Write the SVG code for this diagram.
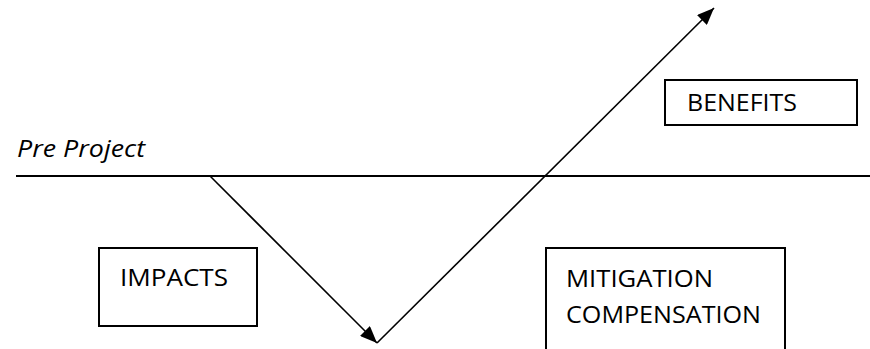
<svg xmlns="http://www.w3.org/2000/svg" width="870" height="349" viewBox="0 0 870 349">
<style>
.box{fill:#fff;stroke:#000;stroke-width:2}
.t{font-family:"Open Sans","Liberation Sans",Arial,sans-serif;font-size:24px;fill:#000}
.ln{stroke:#000;stroke-width:1.6;fill:none}
</style>
<defs>
<marker id="ah" viewBox="0 0 10 10" refX="10" refY="5" markerWidth="17" markerHeight="14" markerUnits="userSpaceOnUse" orient="auto" preserveAspectRatio="none">
<path d="M0,0 L10,5 L0,10 z" fill="#000"/>
</marker>
</defs>
<rect width="870" height="349" fill="#fff"/>
<g id="baseline">
<line x1="16" y1="176" x2="870" y2="176" stroke="#000" stroke-width="2"/>
<text class="t" x="17" y="157" font-style="italic" textLength="128" lengthAdjust="spacingAndGlyphs">Pre Project</text>
</g>
<g id="benefits">
<rect class="box" x="665" y="80" width="192" height="45"/>
<text class="t" x="687" y="111" textLength="110" lengthAdjust="spacingAndGlyphs">BENEFITS</text>
</g>
<g id="impacts">
<rect class="box" x="99" y="248" width="158" height="78"/>
<text class="t" x="120" y="286" textLength="108" lengthAdjust="spacingAndGlyphs">IMPACTS</text>
</g>
<g id="mitigation">
<rect class="box" x="546" y="248" width="239" height="110"/>
<text class="t" x="566" y="287" textLength="147" lengthAdjust="spacingAndGlyphs">MITIGATION</text>
<text class="t" x="566" y="323" textLength="195" lengthAdjust="spacingAndGlyphs">COMPENSATION</text>
</g>
<g id="connectors">
<line class="ln" x1="210" y1="176" x2="377" y2="343" marker-end="url(#ah)"/>
<line class="ln" x1="377" y1="343" x2="714" y2="8" marker-end="url(#ah)"/>
</g>
</svg>
